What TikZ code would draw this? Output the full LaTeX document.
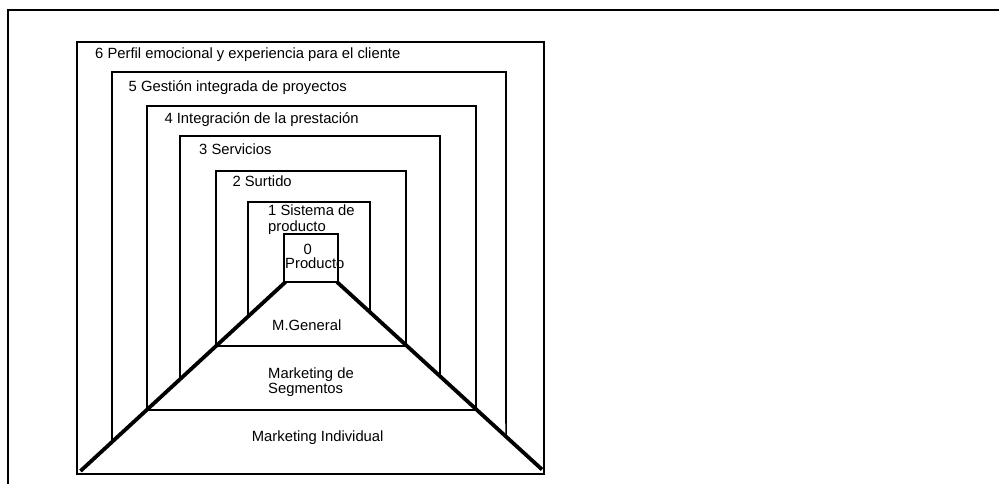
\documentclass[tikz,border=0pt]{standalone}
\usepackage{fontspec}
\setmainfont{Liberation Sans}
\begin{document}
\begin{tikzpicture}[x=1pt,y=-1pt,
  frame/.style={line width=1.6pt},
  ring/.style={line width=1.6pt},
  slant/.style={line width=3.8pt},
  lbl/.style={anchor=base west,inner sep=0pt,font=\fontsize{14.8}{15.5}\selectfont},
  twolines/.style={lbl,align=left}
]
\useasboundingbox (0,0) rectangle (999,484);
\clip (0,0) rectangle (999,484);

% outer frame, running past the page edges
\draw[frame] (1010,10) -- (8,10) -- (8,495);

% slanted edges of the funnel (end points)
\coordinate (dl0) at (285.5,282);
\coordinate (dl1) at (80.5,471);
\coordinate (dr0) at (337,282);
\coordinate (dr1) at (542,469.5);

% closed levels: 6, 4, 2, 0
\draw[ring] (77,42) -- (544,42) -- (544,474) -- (77,474) -- cycle;
\draw[ring] (147,106) -- (476,106) -- (476,410) -- (147,410) -- cycle;
\draw[ring] (216,171) -- (406,171) -- (406,346) -- (216,346) -- cycle;
\draw[ring] (284,234) -- (338,234) -- (338,282) -- (284,282) -- cycle;

% open levels: 5, 3, 1 (sides stop at the slanted edges)
\draw[ring] (intersection of 112,0--112,500 and dl0--dl1) -- (112,72) -- (506,72)
  -- (intersection of 506,0--506,500 and dr0--dr1);
\draw[ring] (intersection of 180,0--180,500 and dl0--dl1) -- (180,136) -- (440,136)
  -- (intersection of 440,0--440,500 and dr0--dr1);
\draw[ring] (intersection of 248,0--248,500 and dl0--dl1) -- (248,202) -- (370,202)
  -- (intersection of 370,0--370,500 and dr0--dr1);

% funnel edges
\draw[slant] (dl0) -- (dl1);
\draw[slant] (dr0) -- (dr1);

% level labels (two-line nodes sit on their last baseline)
\node[lbl] (l6) at (95,58.3) {6 Perfil emocional y experiencia para el cliente};
\node[lbl] (l5) at (128.5,91.7) {5 Gestión integrada de proyectos};
\node[lbl] (l4) at (164.3,123.3) {4 Integración de la prestación};
\node[lbl] (l3) at (199,155) {3 Servicios};
\node[lbl] (l2) at (232.3,186.7) {2 Surtido};
\node[twolines] (l1) at (268,231) {1 Sistema de\\producto};
\node[lbl,anchor=base] (l0a) at (307.7,254) {0};
\node[lbl] (l0b) at (285,268) {Producto};

% funnel labels
\node[lbl] (mg) at (272,330.7) {M.General};
\node[twolines] (ms) at (268,393.5) {Marketing de\\Segmentos};
\node[lbl] (mi) at (251.7,441) {Marketing Individual};
\end{tikzpicture}
\end{document}
